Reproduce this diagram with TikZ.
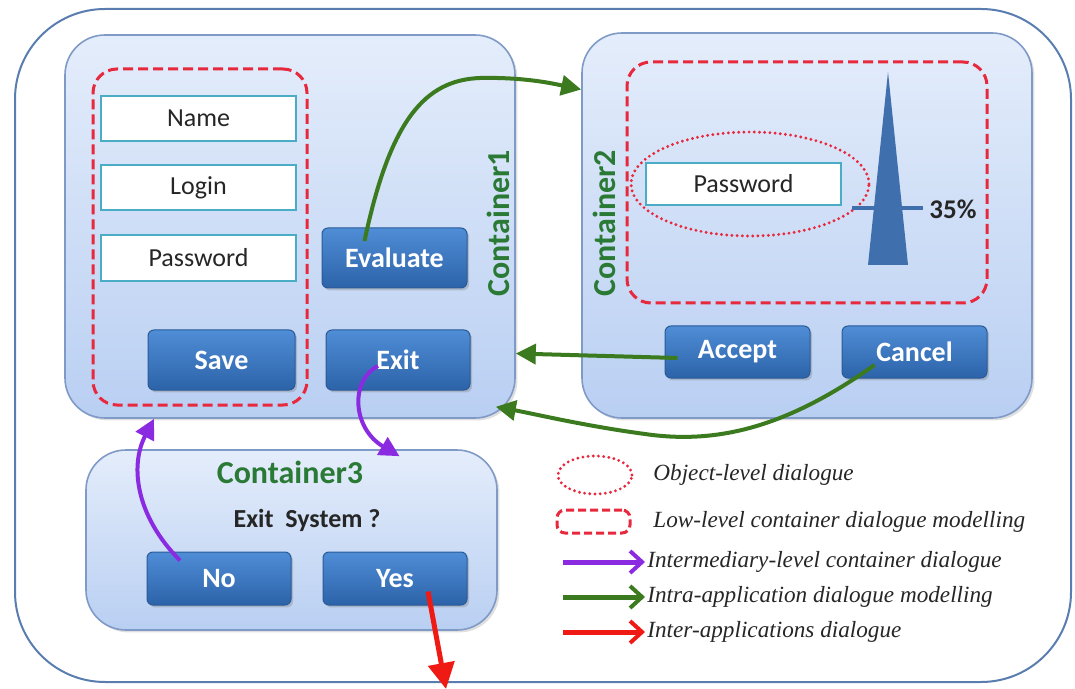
\documentclass[tikz,border=0pt]{standalone}
\usepackage{fontspec}
\setmainfont{Carlito}
\newfontfamily\legendfont{Liberation Serif}
\usepackage{tikz}
\usepackage{xcolor}
\usetikzlibrary{arrows.meta,positioning,calc,fit,shapes.geometric,shadows}
\definecolor{outline}{HTML}{5A7DB0}
\definecolor{cborder}{HTML}{7F9AC6}
\definecolor{ctop}{HTML}{E4EDFB}
\definecolor{cbot}{HTML}{B9CFF2}
\definecolor{btntop}{HTML}{4F8DD6}
\definecolor{btnbot}{HTML}{2C63A9}
\definecolor{btnline}{HTML}{2A5A96}
\definecolor{fieldline}{HTML}{4BACC6}
\definecolor{textdark}{HTML}{262626}
\definecolor{cgreen}{HTML}{2A7A35}
\definecolor{dashred}{HTML}{E8283C}
\definecolor{purp}{HTML}{8A2BE2}
\definecolor{agreen}{HTML}{3B7A1E}
\definecolor{ared}{HTML}{F01A14}
\definecolor{gauge}{HTML}{3F6FAD}
\tikzset{
  container/.style={draw=cborder, line width=0.8pt, rounded corners=20pt,
                    top color=ctop, bottom color=cbot, inner sep=0pt,
                    drop shadow={opacity=0.25, shadow xshift=1.2pt, shadow yshift=-1.2pt}},
  field/.style={draw=fieldline, fill=white, line width=1pt, inner sep=0pt,
                minimum width=97.5pt, minimum height=22.5pt,
                font=\fontsize{13}{15}\selectfont, text=textdark},
  button/.style={draw=btnline, top color=btntop, bottom color=btnbot, rounded corners=3pt,
                 line width=0.5pt, inner sep=0pt, text=white,
                 minimum width=72.5pt, minimum height=30pt,
                 font=\fontsize{14}{16}\selectfont\bfseries,
                 drop shadow={opacity=0.35, shadow xshift=1pt, shadow yshift=-1.2pt}},
  lowlevel/.style={draw=dashred, line width=1.5pt, dash pattern=on 5pt off 2.5pt,
                   rounded corners=12pt, inner sep=0pt},
  objlevel/.style={ellipse, draw=dashred, line width=1.6pt, dash pattern=on 0pt off 2.6pt,
                   line cap=round, inner sep=0pt},
  clabel/.style={font=\fontsize{16}{18}\selectfont\bfseries, text=cgreen},
  legtext/.style={anchor=west, inner sep=1pt, text=textdark,
                  font=\legendfont\itshape\fontsize{11.6}{13}\selectfont},
  intermed/.style={-{Triangle[length=10pt,width=10pt]}, line width=2pt, draw=purp},
  intra/.style={-{Triangle[length=10pt,width=10pt]}, line width=2pt, draw=agreen},
  inter/.style={-{Triangle[length=13pt,width=13pt]}, line width=2.5pt, draw=ared},
  legarrow/.style={-{Straight Barb[length=6pt,width=11pt,line width=2pt]}, line width=2.5pt}
}
\begin{document}
\begin{tikzpicture}[x=0.5pt,y=-0.5pt]
  \useasboundingbox (0,0) rectangle (1075,689);
  \node[draw=outline, line width=1pt, rounded corners=45pt, inner sep=0pt,
        fit={(15,9) (1071,682)}] (app) {};

  \node[container, fit={(65,35) (515,418)}] (c1) {};
  \node[container, fit={(582,33) (1032,418)}] (c2) {};
  \node[container, fit={(86,450) (497,630)}] (c3) {};

  \node[lowlevel, fit={(93,69) (307,405)}] (low1) {};
  \node[field] (name) at (198.5,118.5) {Name};
  \node[field] (login) at (198.5,187.5) {Login};
  \node[field, minimum height=23pt] (pwd1) at (198.5,258) {Password};
  \node[button] (eval) at (394.5,258) {Evaluate};
  \node[button, minimum width=73.5pt] (save) at (221.5,360) {Save};
  \node[button, minimum width=72pt] (exit) at (398,360) {Exit};
  \node[clabel, rotate=90] (c1lab) at (498,223) {Container1};

  \node[lowlevel, fit={(627,62) (987,303)}] (low2) {};
  \node[field, minimum height=21pt] (pwd2) at (743.5,184) {Password};
  \node[objlevel, minimum width=119pt, minimum height=52pt] (objdlg) at (750,184) {};
  \draw[gauge, line width=2pt] (852,208) -- (923,208);
  \fill[gauge] (888,72) -- (908,265) -- (868,265) -- cycle;
  \node[font=\fontsize{13.5}{15}\selectfont\bfseries, text=textdark] (pct) at (953,209) {35\%};
  \node[button, minimum height=26pt] (accept) at (737.5,352) {Accept};
  \node[button, minimum height=26pt] (cancel) at (914.5,352) {Cancel};
  \node[clabel, rotate=90] (c2lab) at (604,223) {Container2};

  \node[clabel] (c3lab) at (290,472) {Container3};
  \node[font=\fontsize{13}{15}\selectfont\bfseries, text=textdark] (ask) at (307,520) {Exit\ \ System ?};
  \node[button, minimum width=72pt, minimum height=26.5pt] (no) at (219,578.5) {No};
  \node[button, minimum width=72pt, minimum height=26.5pt] (yes) at (395,578.5) {Yes};

  \draw[intra] ([shift={(-30,-17)}]eval.center) .. controls (390,120) and (425,80) .. (480,78)
    .. controls (525,77) and (555,84) .. ([shift={(0,-136)}]c2.west);
  \draw[intra] ([shift={(-60,6)}]accept.center) -- ([shift={(0,127)}]c1.east);
  \draw[intra] ([shift={(-40,13)}]cancel.center) .. controls (790,425) and (720,445) .. (645,434)
    .. controls (585,426) and (535,414) .. ([shift={(-20,-12)}]c1.south east);
  \draw[intermed] ([shift={(-20,6)}]exit.center) .. controls (350,380) and (352,428)
    .. ([shift={(108,7)}]c3.north);
  \draw[intermed] ([shift={(-39,-18)}]no.center) .. controls (135,515) and (130,465)
    .. ([shift={(-136,0)}]c1.south);
  \coordinate (offapp) at (446,689);
  \draw[inter] ([shift={(33,13)}]yes.center) -- (offapp);

  \node[objlevel, minimum width=37pt, minimum height=19pt] (legobj) at (595,475) {};
  \node[legtext] (tobj) at (651,475) {Object-level dialogue};
  \node[lowlevel, rounded corners=4pt, dash pattern=on 4pt off 2pt,
        fit={(557,510) (630,533)}] (leglow) {};
  \node[legtext] (tlow) at (651,522) {Low-level container dialogue modelling};
  \coordinate (lpurp) at (563,562);
  \node[legtext] (tpurp) at (645,562) {Intermediary-level container dialogue};
  \coordinate (lgreen) at (563,597);
  \node[legtext] (tgreen) at (645,597) {Intra-application dialogue modelling};
  \coordinate (lred) at (563,632);
  \node[legtext] (tred) at (645,632) {Inter-applications dialogue};
  \draw[legarrow, draw=purp] (lpurp) -- (tpurp.west);
  \draw[legarrow, draw=agreen] (lgreen) -- (tgreen.west);
  \draw[legarrow, draw=ared] (lred) -- (tred.west);
\end{tikzpicture}
\end{document}
